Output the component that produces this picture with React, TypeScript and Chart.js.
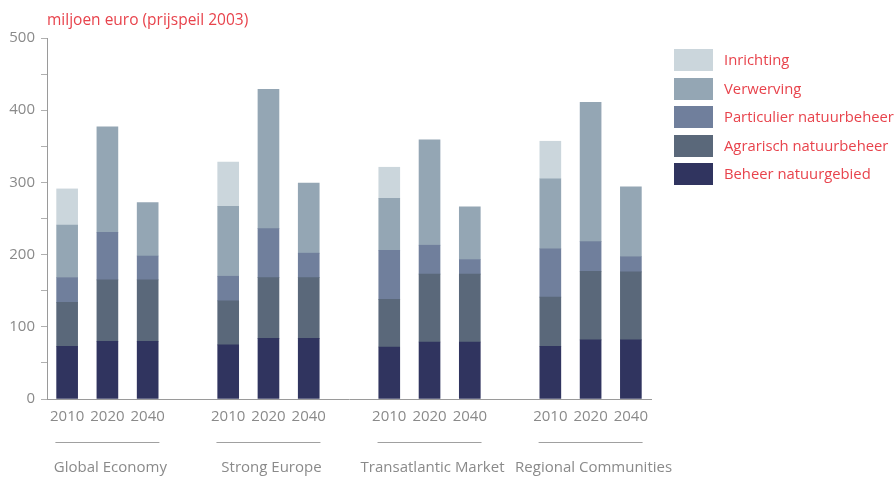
import React, { useEffect, useRef } from "react";
import { Chart, registerables } from "chart.js";

Chart.register(...registerables);

const groups = ["Global Economy", "Strong Europe", "Transatlantic Market", "Regional Communities"];
const years = ["2010", "2020", "2040"];
const yTicks = [0, 100, 200, 300, 400, 500];
const titleText = "miljoen euro (prijspeil 2003)";

// values per bar, in group order (GE, SE, TM, RC) x (2010, 2020, 2040)
const beheerNatuurgebied = [73, 80, 80, 75, 84, 84, 72, 79, 79, 73, 82, 82];
const agrarischNatuurbeheer = [61, 85, 85, 61, 84, 84, 66, 94, 94, 68, 95, 94];
const particulierNatuurbeheer = [34, 66, 33, 34, 68, 34, 68, 40, 20, 67, 41, 21];
const verwerving = [73, 146, 74, 97, 193, 97, 72, 146, 73, 97, 193, 97];
const inrichting = [50, null, null, 61, null, null, 43, null, null, 52, null, null];

const seriesNames = ["Beheer natuurgebied", "Agrarisch natuurbeheer", "Particulier natuurbeheer", "Verwerving", "Inrichting"];
const seriesColors = ["#30345f", "#5a687a", "#707f9c", "#94a6b4", "#cbd6dc"];

const RED = "#e8434c";
const GRAY = "#8a8a8a";
const FONT = "'Open Sans', 'Noto Sans', sans-serif";

// insert an empty slot between groups
function expand<T>(arr: T[], blank: T): T[] {
  const out: T[] = [];
  arr.forEach((v, i) => {
    out.push(v);
    if (i % 3 === 2 && i < arr.length - 1) out.push(blank);
  });
  return out;
}

const labels = expand(groups.flatMap(() => years), "");

const overlayPlugin = {
  id: "overlay",
  afterDraw(chart: any) {
    const ctx = chart.ctx as CanvasRenderingContext2D;
    const x = chart.scales.x;
    ctx.save();
    // title
    ctx.fillStyle = RED;
    ctx.font = `15.5px ${FONT}`;
    ctx.textBaseline = "alphabetic";
    ctx.textAlign = "left";
    ctx.fillText(titleText, 47, 25);

    // group separators and labels
    groups.forEach((g, gi) => {
      const cx = x.getPixelForValue(gi * 4 + 1);
      ctx.strokeStyle = "#a0a0a0";
      ctx.lineWidth = 1;
      ctx.beginPath();
      ctx.moveTo(cx - 52, 442.5);
      ctx.lineTo(cx + 52, 442.5);
      ctx.stroke();
      ctx.fillStyle = GRAY;
      ctx.font = `15px ${FONT}`;
      ctx.textAlign = "center";
      ctx.textBaseline = "middle";
      ctx.fillText(g, cx + 3, 468);
    });

    // legend
    const n = seriesNames.length;
    for (let k = 0; k < n; k++) {
      const i = n - 1 - k;
      const top = Math.round(49 + k * 28.5);
      ctx.fillStyle = seriesColors[i];
      ctx.fillRect(674, top, 39, 22);
      ctx.fillStyle = RED;
      ctx.font = `14.8px ${FONT}`;
      ctx.textAlign = "left";
      ctx.textBaseline = "alphabetic";
      ctx.fillText(seriesNames[i], 724, top + 16);
    }
    ctx.restore();
  },
};

export default function App() {
  const ref = useRef<HTMLCanvasElement>(null);
  useEffect(() => {
    if (!ref.current) return;
    const seriesData = [beheerNatuurgebied, agrarischNatuurbeheer, particulierNatuurbeheer, verwerving, inrichting];
    const chart = new Chart(ref.current, {
      type: "bar",
      data: {
        labels,
        datasets: seriesNames.map((name, i) => ({
          label: name,
          data: expand(seriesData[i] as (number | null)[], null),
          backgroundColor: seriesColors[i],
          borderWidth: 0,
          barThickness: 21,
        })),
      },
      options: {
        animation: false,
        responsive: false,
        devicePixelRatio: 1,
        layout: { padding: { top: 38, right: 244, left: 0, bottom: 0 } },
        plugins: { legend: { display: false }, tooltip: { enabled: false }, title: { display: false } },
        scales: {
          x: {
            stacked: true,
            afterFit: (s: any) => { s.height = 78; },
            grid: { display: true, drawOnChartArea: false, drawTicks: false },
            border: { display: true, color: "#9a9a9a", width: 1 },
            ticks: {
              autoSkip: false,
              maxRotation: 0,
              padding: 9,
              color: GRAY,
              font: { family: FONT, size: 15 },
            },
          },
          y: {
            stacked: true,
            min: 0,
            max: 500,
            afterFit: (s: any) => { s.width = 47; },
            afterBuildTicks: (s: any) => {
              const t: any[] = [];
              for (let v = 0; v <= 500; v += 50) t.push({ value: v });
              s.ticks = t;
            },
            grid: { display: true, drawOnChartArea: false, drawTicks: true, tickLength: 6, color: "#b0b0b0" },
            border: { display: true, color: "#9a9a9a", width: 1 },
            ticks: {
              padding: 6,
              color: GRAY,
              font: { family: FONT, size: 15 },
              callback: (v: any) => (yTicks.includes(Number(v)) ? String(v) : ""),
            },
          },
        },
      },
      plugins: [overlayPlugin],
    });
    return () => chart.destroy();
  }, []);
  return (
    <div style={{ position: "absolute", left: 0, top: 0, width: 895, height: 477, background: "#fff" }}>
      <canvas ref={ref} width={895} height={477} />
    </div>
  );
}
